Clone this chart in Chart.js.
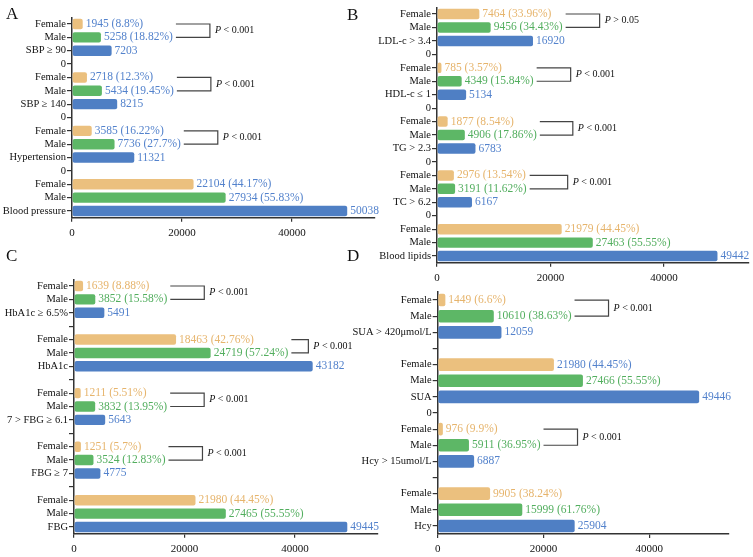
<!DOCTYPE html>
<html>
<head>
<meta charset="utf-8">
<script src="https://cdn.jsdelivr.net/npm/chart.js@4"></script>
<style>
  body { margin: 0; background: #fff; }
  #wrap { position: relative; width: 753px; height: 557px; overflow: hidden; }
  canvas { position: absolute; }
  .tag { position: absolute; font: 17px "Liberation Serif", serif; line-height: 17px; color: #111; }
</style>
</head>
<body>
<div id="wrap">
  <canvas id="chartA" width="390" height="250" style="left:0;top:0"></canvas>
  <canvas id="chartB" width="423" height="290" style="left:330px;top:0"></canvas>
  <canvas id="chartC" width="390" height="307" style="left:0;top:250px"></canvas>
  <canvas id="chartD" width="423" height="307" style="left:330px;top:250px"></canvas>
  <div class="tag" style="left:6px;top:5px">A</div>
  <div class="tag" style="left:347px;top:6px">B</div>
  <div class="tag" style="left:6px;top:247px">C</div>
  <div class="tag" style="left:347px;top:247px">D</div>
</div>
<script>
// Panel A - blood pressure
const aGroups = ['SBP ≥ 90', 'SBP ≥ 140', 'Hypertension', 'Blood pressure'];
const aFemale = [1945, 2718, 3585, 22104];
const aMale = [5258, 5434, 7736, 27934];
const aTotal = [7203, 8215, 11321, 50038];
const aFemalePct = ['8.8%', '12.3%', '16.22%', '44.17%'];
const aMalePct = ['18.82%', '19.45%', '27.7%', '55.83%'];
const aP = ['< 0.001', '< 0.001', '< 0.001', null];
const aGapLabels = ['0', '0', '0'];

// Panel B - blood lipids
const bGroups = ['LDL-c > 3.4', 'HDL-c ≤ 1', 'TG > 2.3', 'TC > 6.2', 'Blood lipids'];
const bFemale = [7464, 785, 1877, 2976, 21979];
const bMale = [9456, 4349, 4906, 3191, 27463];
const bTotal = [16920, 5134, 6783, 6167, 49442];
const bFemalePct = ['33.96%', '3.57%', '8.54%', '13.54%', '44.45%'];
const bMalePct = ['34.43%', '15.84%', '17.86%', '11.62%', '55.55%'];
const bP = ['> 0.05', '< 0.001', '< 0.001', '< 0.001', null];
const bGapLabels = ['0', '0', '0', '0'];

// Panel C - glucose
const cGroups = ['HbA1c ≥ 6.5%', 'HbA1c', '7 > FBG ≥ 6.1', 'FBG ≥ 7', 'FBG'];
const cFemale = [1639, 18463, 1211, 1251, 21980];
const cMale = [3852, 24719, 3832, 3524, 27465];
const cTotal = [5491, 43182, 5643, 4775, 49445];
const cFemalePct = ['8.88%', '42.76%', '5.51%', '5.7%', '44.45%'];
const cMalePct = ['15.58%', '57.24%', '13.95%', '12.83%', '55.55%'];
const cP = ['< 0.001', '< 0.001', '< 0.001', '< 0.001', null];
const cGapLabels = ['', '', '', ''];

// Panel D - uric acid / homocysteine
const dGroups = ['SUA > 420μmol/L', 'SUA', 'Hcy > 15umol/L', 'Hcy'];
const dFemale = [1449, 21980, 976, 9905];
const dMale = [10610, 27466, 5911, 15999];
const dTotal = [12059, 49446, 6887, 25904];
const dFemalePct = ['6.6%', '44.45%', '9.9%', '38.24%'];
const dMalePct = ['38.63%', '55.55%', '36.95%', '61.76%'];
const dP = ['< 0.001', null, '< 0.001', null];
const dGapLabels = ['', '0', ''];

const xTicks = [0, 20000, 40000];

const barColors = ['#EBC07E', '#5DB766', '#4F7FC4'];
const textColors = { o: '#E6B46C', g: '#52AE5E', b: '#5382CC' };

Chart.defaults.font.family = '"Liberation Serif", serif';
Chart.defaults.color = '#111';

const barNotes = {
  id: 'barNotes',
  afterDatasetsDraw(chart, args, opts) {
    const ctx = chart.ctx;
    const meta = chart.getDatasetMeta(0);
    const ends = [];
    ctx.save();
    ctx.textBaseline = 'middle';
    ctx.font = '11.5px "Liberation Serif"';
    meta.data.forEach((bar, i) => {
      const text = opts.texts[i];
      if (!text) return;
      const x = bar.x + 3;
      ctx.fillStyle = opts.colors[i];
      ctx.fillText(text, x, bar.y);
      ends[i] = x + ctx.measureText(text).width;
    });
    opts.brackets.forEach(b => {
      const yf = meta.data[b.f].y;
      const ym = meta.data[b.m].y;
      const x0 = Math.max(ends[b.f], ends[b.m]) + 3;
      const x1 = x0 + b.len;
      ctx.strokeStyle = '#444';
      ctx.lineWidth = 1.2;
      ctx.beginPath();
      ctx.moveTo(x0, yf);
      ctx.lineTo(x1, yf);
      ctx.lineTo(x1, ym);
      ctx.lineTo(x0, ym);
      ctx.stroke();
      const ty = (yf + ym) / 2;
      ctx.fillStyle = '#111';
      ctx.font = 'italic 10px "Liberation Serif"';
      ctx.fillText('P', x1 + 5, ty);
      const pw = ctx.measureText('P ').width;
      ctx.font = '10px "Liberation Serif"';
      ctx.fillText(b.text, x1 + 5 + pw, ty);
    });
    ctx.restore();
  }
};

function makePanel(id, groups, female, male, total, fPct, mPct, pVals, gaps, tones, bracketLens, box) {
  const labels = [], values = [], colors = [], texts = [], tcolors = [], brackets = [];
  groups.forEach((g, k) => {
    const start = labels.length;
    labels.push('Female', 'Male', g);
    values.push(female[k], male[k], total[k]);
    colors.push(...barColors);
    texts.push(female[k] + ' (' + fPct[k] + ')', male[k] + ' (' + mPct[k] + ')', String(total[k]));
    tcolors.push(...tones[k].split('').map(t => textColors[t]));
    if (pVals[k]) brackets.push({ f: start, m: start + 1, text: pVals[k], len: bracketLens[k] });
    if (k < gaps.length) {
      labels.push(gaps[k]);
      values.push(null);
      colors.push('#fff');
      texts.push(null);
      tcolors.push(null);
    }
  });

  new Chart(id, {
    type: 'bar',
    data: {
      labels: labels,
      datasets: [{
        data: values,
        backgroundColor: colors,
        borderRadius: 2,
        borderSkipped: false,
        categoryPercentage: 1,
        barPercentage: 0.78
      }]
    },
    options: {
      indexAxis: 'y',
      responsive: false,
      animation: false,
      layout: { padding: { top: box.top, right: box.right, left: 0, bottom: 0 } },
      plugins: {
        legend: { display: false },
        tooltip: { enabled: false },
        barNotes: { texts: texts, colors: tcolors, brackets: brackets }
      },
      scales: {
        x: {
          type: 'linear',
          min: 0,
          max: 55000,
          afterBuildTicks: s => { s.ticks = xTicks.map(v => ({ value: v })); },
          ticks: {
            autoSkip: false,
            maxRotation: 0,
            padding: 5,
            font: { size: 11 },
            color: '#111',
            callback: v => String(v)
          },
          grid: { drawOnChartArea: false, tickLength: 4, lineWidth: 1.2, color: '#333' },
          border: { color: '#333', width: 1.5 },
          afterFit: s => { s.height = box.xh; }
        },
        y: {
          ticks: { autoSkip: false, padding: 1, font: { size: 10.5 }, color: '#111' },
          grid: { offset: false, drawOnChartArea: false, tickLength: 5, color: '#333', lineWidth: 1.2 },
          border: { color: '#333', width: 1.5 },
          afterFit: s => { s.width = box.yw; }
        }
      }
    },
    plugins: [barNotes]
  });
}

makePanel('chartA', aGroups, aFemale, aMale, aTotal, aFemalePct, aMalePct, aP, aGapLabels,
  ['bbb', 'bbb', 'bbb', 'bbb'], [34, 34, 34, 0],
  { yw: 72, xh: 32.3, top: 17.3, right: 15.5 });
makePanel('chartB', bGroups, bFemale, bMale, bTotal, bFemalePct, bMalePct, bP, bGapLabels,
  ['ogb', 'ogb', 'ogb', 'ogb', 'ogb'], [34, 34, 33, 38, 0],
  { yw: 107, xh: 27.2, top: 3.9, right: 4 });
makePanel('chartC', cGroups, cFemale, cMale, cTotal, cFemalePct, cMalePct, cP, cGapLabels,
  ['ogb', 'ogb', 'ogb', 'ogb', 'ogb'], [34, 17, 34, 34, 0],
  { yw: 74, xh: 23.3, top: 29.3, right: 12 });
makePanel('chartD', dGroups, dFemale, dMale, dTotal, dFemalePct, dMalePct, dP, dGapLabels,
  ['ogb', 'bgb', 'ogb', 'ogb'], [34, 0, 34, 0],
  { yw: 107.7, xh: 23, top: 42, right: 24.5 });
</script>
</body>
</html>
